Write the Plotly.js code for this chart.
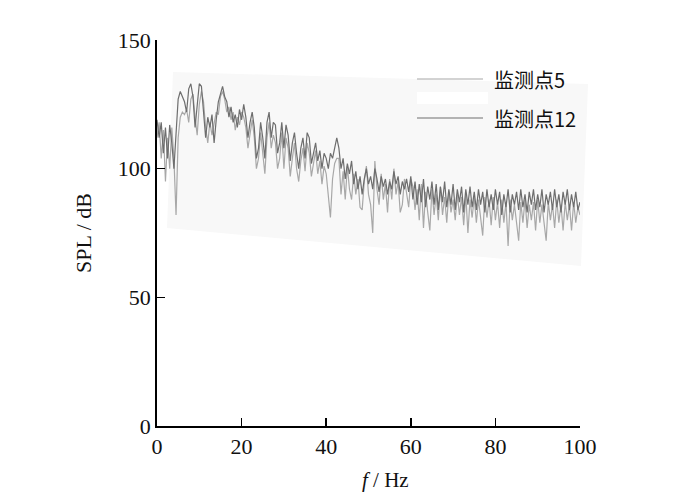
<!DOCTYPE html>
<html>
<head>
<meta charset="utf-8">
<script src="https://cdn.plot.ly/plotly-3.0.1.min.js"></script>
<style>html,body{margin:0;padding:0;background:#fff;}</style>
</head>
<body>
<div id="chart" style="width:700px;height:496px;"></div>
<script>
// Frequency grid: 0 to 100 Hz, step 0.5 Hz
var freqStart = 0;
var freqStep = 0.5;
var seriesNames = ["监测点5", "监测点12"];
var xTickVals = [0, 20, 40, 60, 80, 100];
var yTickVals = [0, 50, 100, 150];

// SPL (dB) of monitoring point 5
var spl5 = [
  112,118,104,115,95,112,100,116,104,82,112,
  120,122,121,123,118,127,129,120,113,125,
  130,126,116,110,118,113,118,122,121,128,
  130,127,122,124,119,122,115,120,117,122,
  120,116,108,114,119,112,100,104,114,106,
  98,112,118,108,113,110,100,104,114,100,
  112,108,97,104,110,100,95,103,108,99,
  110,106,97,102,107,98,103,94,101,98,
  88,81,96,102,104,104,90,99,88,101,
  92,88,98,90,96,85,84,95,101,90,
  86,75,103,92,86,98,88,94,83,96,
  88,100,90,95,83,86,96,90,85,96,
  93,84,92,80,94,77,91,83,76,92,
  82,90,80,93,82,89,79,91,83,88,
  80,90,82,89,78,90,75,88,81,89,
  79,88,80,74,89,81,88,78,89,80,
  87,77,88,79,87,70,88,80,86,78,
  72,87,79,88,77,86,80,87,76,88,
  79,86,78,72,87,80,86,77,88,79,
  86,76,87,80,86,76,87,79,85,82
];

// SPL (dB) of monitoring point 12
var spl12 = [
  119,112,118,106,116,104,117,110,100,115,127,
  130,128,126,122,131,133,128,116,126,133,
  132,122,112,120,116,121,110,119,126,129,
  132,128,126,120,124,118,121,116,123,119,
  125,120,112,118,122,116,104,108,118,112,
  104,118,122,112,118,117,106,110,118,108,
  117,113,103,110,114,106,100,108,112,104,
  114,112,102,106,110,103,107,100,106,104,
  100,106,104,108,112,108,100,104,96,102,
  98,103,94,99,92,97,90,96,100,94,
  97,92,100,96,91,97,93,96,90,95,
  92,99,94,97,90,95,92,96,91,97,
  88,95,86,94,87,96,85,93,88,95,
  86,94,84,93,87,95,85,92,86,94,
  84,92,87,93,83,92,86,93,85,91,
  84,92,86,91,83,92,85,90,84,92,
  86,91,82,90,85,92,83,90,86,91,
  84,92,85,90,83,91,86,92,84,90,
  85,92,83,90,86,91,84,92,85,90,
  83,91,86,92,84,90,85,91,84,87
];

var colors = ["#a8a8a8", "#6e6e6e"];
var serif = "Liberation Serif, Times New Roman, serif";
var cjk = "Noto Sans CJK SC, sans-serif";

var traces = [
  {type: "scatter", mode: "lines", name: seriesNames[0], y: spl5, x0: freqStart, dx: freqStep,
   line: {color: colors[0], width: 1.2}, showlegend: false},
  {type: "scatter", mode: "lines", name: seriesNames[1], y: spl12, x0: freqStart, dx: freqStep,
   line: {color: colors[1], width: 1.2}, showlegend: false}
];

var L = 157, R = 580, T = 40, B = 426;
function px(v){ return (v - L) / (R - L); }
function py(v){ return (B - v) / (B - T); }

var shapes = [
  {type: "path", xref: "paper", yref: "paper", layer: "below",
   path: "M" + px(173) + "," + py(72) + " L" + px(588) + "," + py(84) + " L" + px(581) + "," + py(266) + " L" + px(167) + "," + py(228) + " Z",
   fillcolor: "#f8f8f8", line: {width: 0}},
  {type: "rect", xref: "paper", yref: "paper", layer: "below",
   x0: px(417), x1: px(488), y0: py(104), y1: py(92), fillcolor: "#ffffff", line: {width: 0}},
  {type: "line", xref: "paper", yref: "paper", x0: px(417), x1: px(483), y0: py(79), y1: py(79),
   line: {color: colors[0], width: 1.2}},
  {type: "line", xref: "paper", yref: "paper", x0: px(417), x1: px(483), y0: py(118), y1: py(118),
   line: {color: colors[1], width: 1.2}}
];

var annotations = [
  {xref: "paper", yref: "paper", x: px(492), y: py(79), xanchor: "left", yanchor: "middle",
   text: seriesNames[0], showarrow: false, font: {family: cjk, size: 20, color: "#111"}},
  {xref: "paper", yref: "paper", x: px(492), y: py(118), xanchor: "left", yanchor: "middle",
   text: seriesNames[1], showarrow: false, font: {family: cjk, size: 20, color: "#111"}},
  {xref: "paper", yref: "paper", x: px(385), y: py(494), xanchor: "center", yanchor: "bottom",
   text: "<i>f</i> / Hz", showarrow: false, font: {family: serif, size: 21, color: "#111"}}
];

var layout = {
  width: 700, height: 496,
  margin: {l: L, r: 700 - R, t: T, b: 496 - B, pad: 0},
  paper_bgcolor: "#ffffff",
  plot_bgcolor: "rgba(0,0,0,0)",
  showlegend: false,
  font: {family: serif, size: 20, color: "#111"},
  xaxis: {
    range: [0, 100], tickvals: xTickVals, ticktext: xTickVals.map(String),
    ticks: "inside", ticklen: 8, tickwidth: 1.5, tickcolor: "#000",
    showline: true, linecolor: "#000", linewidth: 1.8, mirror: false,
    showgrid: false, zeroline: false, fixedrange: true,
    tickfont: {family: serif, size: 22, color: "#111"}
  },
  yaxis: {
    range: [0, 150], tickvals: yTickVals, ticktext: yTickVals.map(String),
    ticks: "inside", ticklen: 8, tickwidth: 1.5, tickcolor: "#000",
    showline: true, linecolor: "#000", linewidth: 1.8, mirror: false,
    showgrid: false, zeroline: false, fixedrange: true,
    tickfont: {family: serif, size: 22, color: "#111"},
    title: {text: "SPL / dB", font: {family: serif, size: 22, color: "#111"}, standoff: 20}
  },
  shapes: shapes,
  annotations: annotations
};

Plotly.newPlot("chart", traces, layout, {displayModeBar: false, staticPlot: true});
</script>
</body>
</html>
